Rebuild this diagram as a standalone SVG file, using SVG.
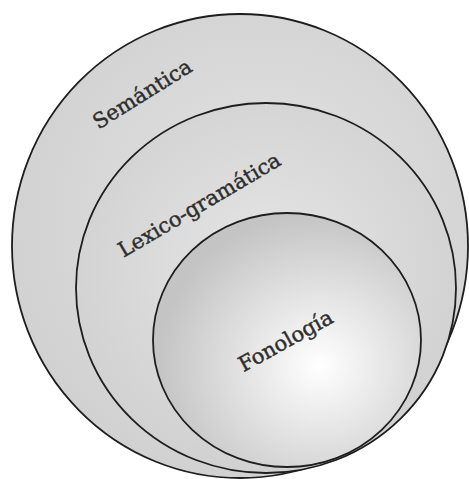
<svg xmlns="http://www.w3.org/2000/svg" width="469" height="479" viewBox="0 0 469 479">
<defs>
<radialGradient id="gOuter" cx="0.55" cy="0.45" r="0.6">
<stop offset="0" stop-color="#e4e4e4"/>
<stop offset="1" stop-color="#d0d0d0"/>
</radialGradient>
<radialGradient id="gMid" cx="0.5" cy="0.45" r="0.6">
<stop offset="0" stop-color="#e6e6e6"/>
<stop offset="1" stop-color="#cfcfcf"/>
</radialGradient>
<radialGradient id="gInner" cx="0.62" cy="0.6" r="0.6">
<stop offset="0" stop-color="#ffffff"/>
<stop offset="1" stop-color="#c4c4c4"/>
</radialGradient>
</defs>
<style>
.ring{stroke:#1e1e1e;stroke-width:1.8}
.lbl{font-family:"DejaVu Serif","Liberation Serif",serif;font-size:21px;fill:#2e2e2e;stroke:#2e2e2e;stroke-width:0.45;text-anchor:middle}
</style>
<rect width="469" height="479" fill="#ffffff"/>
<g id="semantica">
<ellipse class="ring" cx="240" cy="246" rx="228" ry="232" fill="url(#gOuter)"/>
<text class="lbl" transform="translate(146,100) rotate(-32)">Semántica</text>
</g>
<g id="lexicogramatica">
<ellipse class="ring" cx="266" cy="288" rx="190" ry="185" fill="url(#gMid)"/>
<text class="lbl" transform="translate(203,211) rotate(-30.5)">Lexico-gramática</text>
</g>
<g id="fonologia">
<ellipse class="ring" cx="287" cy="340" rx="134" ry="127" fill="url(#gInner)"/>
<text class="lbl" transform="translate(289,347) rotate(-29)">Fonología</text>
</g>
<g id="connectors"/>
</svg>
